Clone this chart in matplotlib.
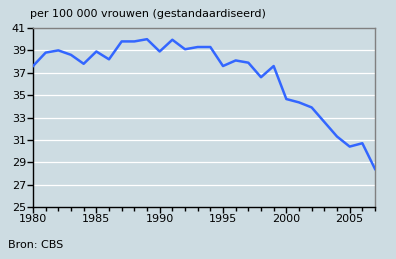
import matplotlib
matplotlib.use("Agg")
import matplotlib.pyplot as plt
from matplotlib.ticker import MultipleLocator

years = list(range(1980, 2008))
values = [37.6, 38.8, 39.0, 38.6, 37.8, 38.9, 38.2, 39.8, 39.8, 40.0,
          38.9, 39.95, 39.1, 39.3, 39.3, 37.6, 38.1, 37.9, 36.6, 37.6,
          34.65, 34.35, 33.9, 32.6, 31.3, 30.4, 30.7, 28.4]
yticks = [25, 27, 29, 31, 33, 35, 37, 39, 41]
xticks = [1980, 1985, 1990, 1995, 2000, 2005]
title = "per 100 000 vrouwen (gestandaardiseerd)"
source = "Bron: CBS"

bg = "#cddce2"
fig = plt.figure(figsize=(3.96, 2.59), dpi=100, facecolor=bg)
ax = fig.add_axes([33/396, 1-207/259, (375-33)/396, (207-28)/259])
ax.set_facecolor(bg)

for y in yticks[1:-1]:
    ax.axhline(y, color="white", lw=0.9, zorder=1)

ax.plot(years, values, color="#3366ff", lw=1.8, zorder=3)

ax.set_xlim(1980, 2007)
ax.set_ylim(25, 41)
ax.set_yticks(yticks)
ax.set_xticks(xticks)
ax.xaxis.set_minor_locator(MultipleLocator(1))

for s in ["top", "right"]:
    ax.spines[s].set_color("#808080")
    ax.spines[s].set_linewidth(1.0)
for s in ["left", "bottom"]:
    ax.spines[s].set_color("black")
    ax.spines[s].set_linewidth(1.0)

ax.tick_params(axis="both", which="major", length=4, width=1, labelsize=8, color="black", pad=1)
ax.tick_params(axis="x", which="minor", length=3, width=1, color="black")

fig.text(30/396, 1-14/259, title, fontsize=8, va="center", ha="left")
fig.text(8/396, 1-245/259, source, fontsize=8, va="center", ha="left")

fig.savefig("out.png", dpi=100, facecolor=bg)
